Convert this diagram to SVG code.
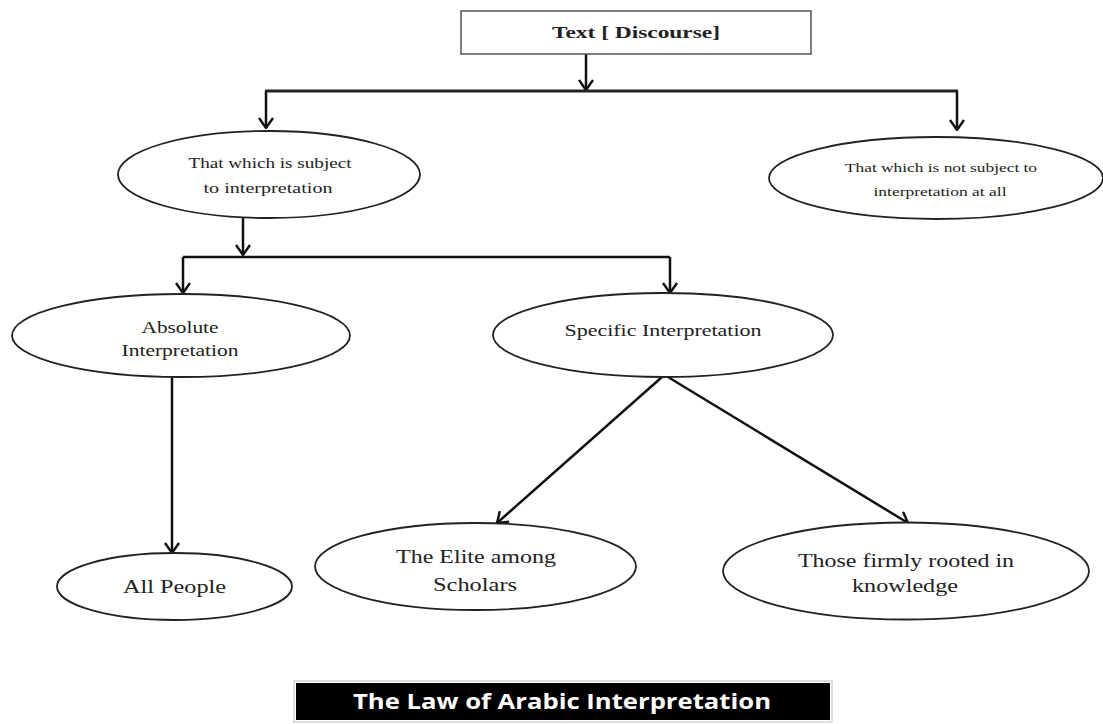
<svg xmlns="http://www.w3.org/2000/svg" width="1103" height="724" viewBox="0 0 1103 724">
  <style>
    .node { fill: #ffffff; stroke: #222222; stroke-width: 1.8; }
    .box { fill: #ffffff; stroke: #555555; stroke-width: 1.5; }
    .lbl { font-family: "Liberation Serif", "Times New Roman", serif; fill: #222222; text-anchor: middle; }
    .conn { fill: none; stroke: #111111; stroke-width: 2.5; }
    .bar { fill: none; stroke: #222222; stroke-width: 3.2; }
    .title { font-family: "Open Sans", "Liberation Sans", sans-serif; font-weight: bold; fill: #ffffff; text-anchor: middle; }
  </style>
  <defs>
    <marker id="arr" viewBox="0 0 12 16" refX="11" refY="8" markerWidth="12" markerHeight="16" markerUnits="userSpaceOnUse" orient="auto">
      <path d="M1,1 L11,8 L1,15" fill="none" stroke="#111111" stroke-width="2.4"/>
    </marker>
  </defs>
  <rect x="0" y="0" width="1103" height="724" fill="#ffffff"/>

  <g id="connectors">
    <path class="conn" d="M586,54 L586,90" marker-end="url(#arr)"/>
    <path class="bar" d="M265,91 L958,91"/>
    <path class="conn" d="M266,91 L266,128" marker-end="url(#arr)"/>
    <path class="conn" d="M957,91 L957,130" marker-end="url(#arr)"/>
    <path class="conn" d="M243,218 L243,255" marker-end="url(#arr)"/>
    <path class="conn" d="M183,257 L670,257"/>
    <path class="conn" d="M183,257 L183,293" marker-end="url(#arr)"/>
    <path class="conn" d="M670,257 L670,293" marker-end="url(#arr)"/>
    <path class="conn" d="M172,377 L172,553" marker-end="url(#arr)"/>
    <path class="conn" d="M662,377 L497,523" marker-end="url(#arr)"/>
    <path class="conn" d="M668,377 L908,523" marker-end="url(#arr)"/>
  </g>

  <g id="node-text">
    <rect class="box" x="461" y="11" width="350" height="43"/>
    <text class="lbl" x="636" y="38" font-size="17" font-weight="bold" textLength="168" lengthAdjust="spacingAndGlyphs">Text [ Discourse]</text>
  </g>

  <g id="node-subject">
    <ellipse class="node" cx="269" cy="174.5" rx="151" ry="43.5"/>
    <text class="lbl" x="270" y="168" font-size="14" textLength="163" lengthAdjust="spacingAndGlyphs">That which is subject</text>
    <text class="lbl" x="268" y="193" font-size="14" textLength="129" lengthAdjust="spacingAndGlyphs">to interpretation</text>
  </g>

  <g id="node-not-subject">
    <ellipse class="node" cx="936" cy="178" rx="167" ry="41"/>
    <text class="lbl" x="941" y="172" font-size="13" textLength="192" lengthAdjust="spacingAndGlyphs">That which is not subject to</text>
    <text class="lbl" x="940" y="196" font-size="13" textLength="133" lengthAdjust="spacingAndGlyphs">interpretation at all</text>
  </g>

  <g id="node-absolute">
    <ellipse class="node" cx="181" cy="335.5" rx="169" ry="41.5"/>
    <text class="lbl" x="180" y="333" font-size="17" textLength="77" lengthAdjust="spacingAndGlyphs">Absolute</text>
    <text class="lbl" x="180" y="356" font-size="17" textLength="117" lengthAdjust="spacingAndGlyphs">Interpretation</text>
  </g>

  <g id="node-specific">
    <ellipse class="node" cx="663" cy="335" rx="170" ry="42"/>
    <text class="lbl" x="663" y="336" font-size="17" textLength="197" lengthAdjust="spacingAndGlyphs">Specific Interpretation</text>
  </g>

  <g id="node-all-people">
    <ellipse class="node" cx="174.5" cy="586.5" rx="117.5" ry="33.5"/>
    <text class="lbl" x="174.5" y="593" font-size="19" textLength="103" lengthAdjust="spacingAndGlyphs">All People</text>
  </g>

  <g id="node-elite">
    <ellipse class="node" cx="475.5" cy="566.5" rx="160.5" ry="43.5"/>
    <text class="lbl" x="476" y="563" font-size="19" textLength="160" lengthAdjust="spacingAndGlyphs">The Elite among</text>
    <text class="lbl" x="475" y="591" font-size="19" textLength="84" lengthAdjust="spacingAndGlyphs">Scholars</text>
  </g>

  <g id="node-rooted">
    <ellipse class="node" cx="906" cy="571" rx="183" ry="48.5"/>
    <text class="lbl" x="906" y="567" font-size="19" textLength="216" lengthAdjust="spacingAndGlyphs">Those firmly rooted in</text>
    <text class="lbl" x="905" y="592" font-size="19" textLength="106" lengthAdjust="spacingAndGlyphs">knowledge</text>
  </g>

  <g id="title">
    <rect x="294" y="681" width="538" height="41" fill="none" stroke="#dddddd" stroke-width="2"/>
    <rect x="296" y="683" width="534" height="37" fill="#000000"/>
    <text class="title" x="562" y="709" font-size="21" textLength="418" lengthAdjust="spacingAndGlyphs">The Law of Arabic Interpretation</text>
  </g>
</svg>
